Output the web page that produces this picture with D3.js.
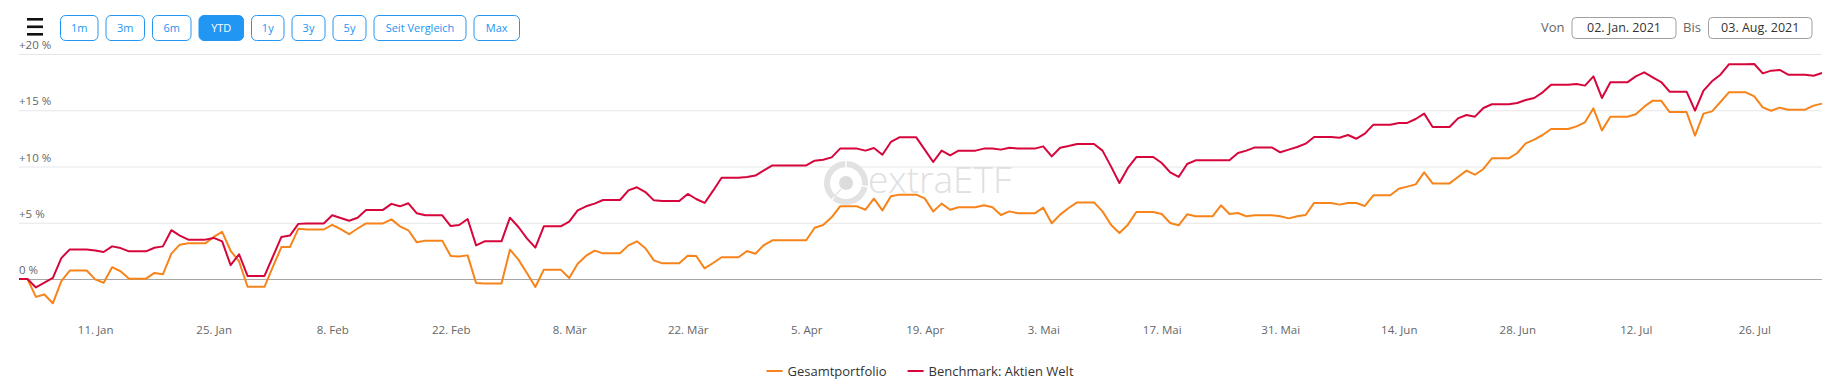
<!DOCTYPE html>
<html>
<head>
<meta charset="utf-8">
<script src="https://cdn.jsdelivr.net/npm/d3@7"></script>
<style>
body { margin: 0; background: #fff; font-family: "Open Sans", sans-serif; }
</style>
</head>
<body>
<svg id="chart" width="1840" height="388"></svg>
<script>
// daily values (incl. weekends), starting 02. Jan. 2021
const startDate = "2021-01-02";

const portfolio = [
  0, 0, -1.59, -1.38, -2.16, -0.18, 0.75, 0.75, 0.75, -0.03,
  -0.33, 1.05, 0.69, 0.03, 0.03, 0.03, 0.54, 0.42, 2.25, 3.05,
  3.17, 3.17, 3.17, 3.74, 4.19, 2.51, 1.56, -0.69, -0.69, -0.69,
  1.1, 2.84, 2.84, 4.46, 4.4, 4.4, 4.4, 4.82, 4.43, 3.98,
  4.49, 4.94, 4.94, 4.94, 5.3, 4.68, 4.33, 3.26, 3.41, 3.41,
  3.41, 2.04, 1.99, 2.1, -0.36, -0.39, -0.39, -0.39, 2.61, 1.72,
  0.53, -0.71, 0.83, 0.83, 0.83, 0.09, 1.36, 2.07, 2.52, 2.28,
  2.28, 2.28, 2.99, 3.35, 2.73, 1.66, 1.39, 1.39, 1.39, 2.07,
  2.04, 0.95, 1.42, 1.93, 1.93, 1.93, 2.49, 2.25, 3.02, 3.44,
  3.44, 3.44, 3.44, 3.44, 4.56, 4.8, 5.48, 6.46, 6.46, 6.46,
  6.16, 7.14, 6.1, 7.35, 7.5, 7.5, 7.5, 7.17, 6.01, 6.7,
  6.16, 6.37, 6.37, 6.37, 6.55, 6.37, 5.69, 6.01, 5.84, 5.84,
  5.84, 6.34, 4.95, 5.72, 6.31, 6.81, 6.81, 6.81, 6.01, 4.83,
  4.09, 4.83, 5.96, 5.96, 5.96, 5.78, 4.98, 4.77, 5.75, 5.57,
  5.57, 5.57, 6.55, 5.78, 5.87, 5.57, 5.66, 5.66, 5.66, 5.57,
  5.39, 5.57, 5.69, 6.76, 6.76, 6.76, 6.61, 6.76, 6.76, 6.49,
  7.44, 7.44, 7.44, 8.03, 8.21, 8.41, 9.48, 8.5, 8.5, 8.5,
  9.07, 9.63, 9.27, 9.78, 10.73, 10.73, 10.73, 11.2, 12.06, 12.39,
  12.8, 13.33, 13.33, 13.33, 13.57, 13.93, 15.17, 13.21, 14.43, 14.43,
  14.43, 14.64, 15.32, 15.85, 15.85, 14.84, 14.84, 14.84, 12.74, 14.7,
  14.9, 15.73, 16.59, 16.59, 16.59, 16.24, 15.26, 14.96, 15.23, 15.05,
  15.05, 15.05, 15.41, 15.59
];

const benchmark = [
  0, 0, -0.75, -0.33, 0.1, 1.86, 2.63, 2.63, 2.63, 2.54,
  2.4, 2.9, 2.75, 2.46, 2.46, 2.46, 2.78, 2.9, 4.34, 3.86,
  3.5, 3.5, 3.5, 3.65, 3.35, 1.23, 2.2, 0.27, 0.27, 0.27,
  2.0, 3.74, 3.86, 4.9, 4.94, 4.94, 4.94, 5.66, 5.42, 5.18,
  5.45, 6.14, 6.14, 6.14, 6.68, 6.46, 6.73, 5.84, 5.66, 5.66,
  5.66, 4.71, 4.8, 5.33, 2.99, 3.35, 3.35, 3.35, 5.45, 4.62,
  3.61, 2.79, 4.68, 4.68, 4.68, 5.1, 6.1, 6.46, 6.7, 7.02,
  7.02, 7.02, 7.88, 8.15, 7.73, 6.99, 6.93, 6.93, 6.93, 7.56,
  7.11, 6.76, 7.85, 9.0, 9.0, 9.0, 9.07, 9.19, 9.66, 10.1,
  10.1, 10.1, 10.1, 10.1, 10.52, 10.6, 10.81, 11.59, 11.59, 11.59,
  11.41, 11.64, 11.05, 12.18, 12.59, 12.59, 12.59, 11.5, 10.4, 11.41,
  10.99, 11.41, 11.41, 11.41, 11.59, 11.59, 11.5, 11.67, 11.59, 11.59,
  11.59, 11.79, 10.9, 11.67, 11.82, 12.0, 12.0, 12.0, 11.41, 10.01,
  8.53, 9.87, 10.84, 10.84, 10.84, 10.31, 9.48, 9.07, 10.22, 10.55,
  10.55, 10.55, 10.55, 10.55, 11.2, 11.41, 11.7, 11.7, 11.7, 11.26,
  11.5, 11.73, 12.03, 12.62, 12.62, 12.62, 12.56, 12.8, 12.47, 12.92,
  13.72, 13.72, 13.72, 13.87, 13.87, 14.22, 14.7, 13.51, 13.51, 13.51,
  14.28, 14.58, 14.43, 15.2, 15.53, 15.53, 15.53, 15.64, 15.91, 16.09,
  16.59, 17.27, 17.27, 17.27, 17.33, 17.19, 18.01, 16.09, 17.48, 17.48,
  17.48, 18.01, 18.37, 17.93, 17.51, 16.65, 16.65, 16.65, 14.96, 16.74,
  17.57, 18.16, 19.08, 19.08, 19.08, 19.11, 18.28, 18.52, 18.58, 18.16,
  18.16, 18.16, 18.07, 18.31
];

const seriesNames = ["Gesamtportfolio", "Benchmark: Aktien Welt"];

const yTicks = [0, 5, 10, 15, 20];

const xTicks = ["2021-01-11", "2021-01-25", "2021-02-08", "2021-02-22", "2021-03-08",
  "2021-03-22", "2021-04-05", "2021-04-19", "2021-05-03", "2021-05-17",
  "2021-05-31", "2021-06-14", "2021-06-28", "2021-07-12", "2021-07-26"];
const xTickLabels = ["11. Jan", "25. Jan", "8. Feb", "22. Feb", "8. Mär",
  "22. Mär", "5. Apr", "19. Apr", "3. Mai", "17. Mai",
  "31. Mai", "14. Jun", "28. Jun", "12. Jul", "26. Jul"];

const rangeButtons = ["1m", "3m", "6m", "YTD", "1y", "3y", "5y", "Seit Vergleich", "Max"];
const activeButton = "YTD";
const dateFrom = "02. Jan. 2021";
const dateTo = "03. Aug. 2021";

const orange = "#f7841a";
const red = "#d6063c";
const blue = "#2196f3";

let svg = d3.select("#chart");
let parseDay = d3.utcParse("%Y-%m-%d");
let start = parseDay(startDate);
let dates = portfolio.map((v, i) => d3.utcDay.offset(start, i));

let plotLeft = 19, plotRight = 1822;

let x = d3.scaleUtc()
  .domain([dates[0], dates[dates.length - 1]])
  .range([plotLeft, plotRight]);

let y = d3.scaleLinear()
  .domain([0, 20])
  .range([279, 54]);

// gridlines + y labels
let yAxis = svg.append("g")
  .attr("transform", `translate(${plotLeft},0)`)
  .call(d3.axisRight(y)
    .tickValues(yTicks)
    .tickSize(plotRight - plotLeft)
    .tickFormat(d => (d > 0 ? "+" : "") + d + " %"));
yAxis.select(".domain").remove();
yAxis.selectAll("line")
  .attr("stroke", d => d === 0 ? "#a6a6a6" : "#e6e6e6");
yAxis.selectAll("text")
  .attr("x", 0)
  .attr("y", -9)
  .attr("text-anchor", "start")
  .attr("fill", "#666")
  .style("font-family", "Open Sans")
  .style("font-size", "11.5px");

// x labels
let xAxis = svg.append("g")
  .attr("transform", "translate(0,320)")
  .call(d3.axisBottom(x)
    .tickValues(xTicks.map(parseDay))
    .tickSize(0)
    .tickPadding(6)
    .tickFormat((d, i) => xTickLabels[i]));
xAxis.select(".domain").remove();
xAxis.selectAll("text")
  .attr("fill", "#666")
  .style("font-family", "Open Sans")
  .style("font-size", "11.5px");

// watermark
let wm = svg.append("g").attr("transform", "translate(846,183)");
wm.append("circle").attr("r", 19).attr("fill", "none")
  .attr("stroke", "#e2e2e2").attr("stroke-width", 6);
wm.append("circle").attr("r", 7).attr("fill", "#dcdcdc");
[-90, 10, 130].forEach(a => {
  let r = a * Math.PI / 180;
  wm.append("line")
    .attr("x1", 15 * Math.cos(r)).attr("y1", 15 * Math.sin(r))
    .attr("x2", 23 * Math.cos(r)).attr("y2", 23 * Math.sin(r))
    .attr("stroke", "#fff").attr("stroke-width", 1.5);
});
wm.append("line")
  .attr("x1", -5).attr("y1", 6).attr("x2", -12).attr("y2", 14)
  .attr("stroke", "#e2e2e2").attr("stroke-width", 1.2);
svg.append("text")
  .attr("x", 868).attr("y", 193)
  .attr("fill", "#e0e0e0")
  .style("font-family", "Open Sans")
  .style("font-weight", 300)
  .style("font-size", "37px")
  .text("extraETF");

// lines
let line = d3.line()
  .x((d, i) => x(dates[i]))
  .y(d => y(d));

svg.append("path")
  .datum(portfolio)
  .attr("d", line)
  .attr("fill", "none")
  .attr("stroke", orange)
  .attr("stroke-width", 2)
  .attr("stroke-linejoin", "round");

svg.append("path")
  .datum(benchmark)
  .attr("d", line)
  .attr("fill", "none")
  .attr("stroke", red)
  .attr("stroke-width", 2)
  .attr("stroke-linejoin", "round");

// legend
let legend = svg.append("g");
let items = legend.selectAll("g")
  .data(seriesNames)
  .join("g");
items.append("line")
  .attr("x1", 0).attr("x2", 16)
  .attr("y1", 371).attr("y2", 371)
  .attr("stroke", (d, i) => i === 0 ? orange : red)
  .attr("stroke-width", 2);
items.append("text")
  .attr("x", 21).attr("y", 375.5)
  .attr("fill", "#333")
  .style("font-family", "Open Sans")
  .style("font-size", "13px")
  .text(d => d);
let widths = [];
items.each(function () { widths.push(21 + d3.select(this).select("text").node().getComputedTextLength()); });
let total = d3.sum(widths) + 21 * (widths.length - 1);
let lx = 920 - total / 2;
items.attr("transform", (d, i) => {
  let t = `translate(${lx},0)`;
  lx += widths[i] + 21;
  return t;
});

// hamburger
[18, 25.5, 33].forEach(hy => {
  svg.append("rect").attr("x", 27).attr("y", hy)
    .attr("width", 16).attr("height", 2.6).attr("fill", "#111");
});

// range buttons
const buttonWidths = [37.5, 38.5, 38.5, 44.5, 32.5, 33, 33, 92, 45.5];
let bx = 60.5;
let btnX = buttonWidths.map(w => { let p = bx; bx += w + 8; return p; });
let btns = svg.append("g").selectAll("g")
  .data(rangeButtons)
  .join("g")
  .attr("transform", (d, i) => `translate(${btnX[i]},15.5)`);
btns.append("rect")
  .attr("width", (d, i) => buttonWidths[i])
  .attr("height", 25)
  .attr("rx", 5)
  .attr("fill", d => d === activeButton ? blue : "#fff")
  .attr("stroke", blue)
  .attr("stroke-width", 1);
btns.append("text")
  .attr("x", (d, i) => buttonWidths[i] / 2)
  .attr("y", 12.5)
  .attr("dy", "0.35em")
  .attr("text-anchor", "middle")
  .attr("fill", d => d === activeButton ? "#fff" : blue)
  .style("font-family", "Open Sans")
  .style("font-size", "11px")
  .text(d => d);

// date range
svg.append("text").attr("x", 1541).attr("y", 32)
  .attr("fill", "#666").style("font-size", "13px").text("Von");
svg.append("text").attr("x", 1683).attr("y", 32)
  .attr("fill", "#666").style("font-size", "13px").text("Bis");
[[1572, 104, dateFrom], [1708.5, 103.5, dateTo]].forEach(([bx0, bw, label]) => {
  svg.append("rect").attr("x", bx0).attr("y", 17.5)
    .attr("width", bw).attr("height", 21).attr("rx", 4)
    .attr("fill", "#fff").attr("stroke", "#a0a0a0");
  svg.append("text").attr("x", bx0 + bw / 2).attr("y", 32)
    .attr("text-anchor", "middle").attr("fill", "#333")
    .style("font-size", "12.5px").text(label);
});
</script>
</body>
</html>
